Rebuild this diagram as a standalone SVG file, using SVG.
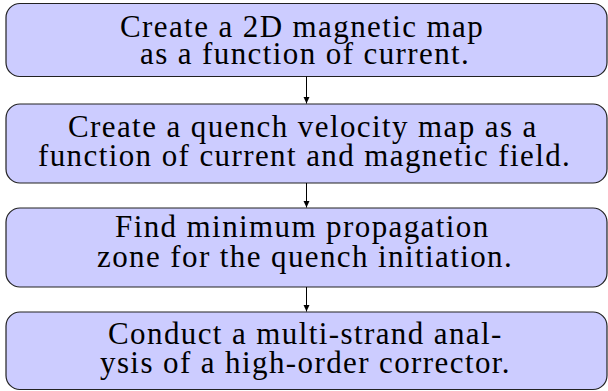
<svg xmlns="http://www.w3.org/2000/svg" width="608" height="391" viewBox="0 0 608 391">
<defs>
<marker id="ah" markerWidth="8" markerHeight="8" refX="7" refY="4" orient="auto" markerUnits="userSpaceOnUse">
<path d="M0,0.8 L7,4 L0,7.2 Z" fill="#000"/>
</marker>
</defs>
<rect width="608" height="391" fill="#fff"/>
<g id="n1">
<rect fill="#ccccff" stroke="#222" stroke-width="1.2" x="6" y="3.5" width="601" height="73" rx="14"/>
<text font-family="Liberation Serif" font-size="31" letter-spacing="1.4" x="120" y="36.5">Create a 2D magnetic map</text>
<text font-family="Liberation Serif" font-size="31" letter-spacing="1.4" x="140" y="63.5">as a function of current.</text>
</g>
<g id="n2">
<rect fill="#ccccff" stroke="#222" stroke-width="1.2" x="6" y="104" width="601" height="79" rx="14"/>
<text font-family="Liberation Serif" font-size="31" letter-spacing="1.4" x="68" y="136.5">Create a quench velocity map as a</text>
<text font-family="Liberation Serif" font-size="31" letter-spacing="1.4" x="38" y="165.5">function of current and magnetic field.</text>
</g>
<g id="n3">
<rect fill="#ccccff" stroke="#222" stroke-width="1.2" x="6" y="208" width="601" height="79" rx="14"/>
<text font-family="Liberation Serif" font-size="31" letter-spacing="1.4" x="115" y="236.5">Find minimum propagation</text>
<text font-family="Liberation Serif" font-size="31" letter-spacing="1.4" x="97" y="266.5">zone for the quench initiation.</text>
</g>
<g id="n4">
<rect fill="#ccccff" stroke="#222" stroke-width="1.2" x="6" y="312" width="601" height="77.5" rx="14"/>
<text font-family="Liberation Serif" font-size="31" letter-spacing="1.4" x="108" y="343.5">Conduct a multi-strand anal-</text>
<text font-family="Liberation Serif" font-size="31" letter-spacing="1.4" x="100" y="372.5">ysis of a high-order corrector.</text>
</g>
<g id="connectors" stroke="#000" stroke-width="1" fill="none">
<line x1="306.5" y1="76.5" x2="306.5" y2="103.5" marker-end="url(#ah)"/>
<line x1="306.5" y1="183" x2="306.5" y2="207.5" marker-end="url(#ah)"/>
<line x1="306.5" y1="287" x2="306.5" y2="311.5" marker-end="url(#ah)"/>
</g>
</svg>
